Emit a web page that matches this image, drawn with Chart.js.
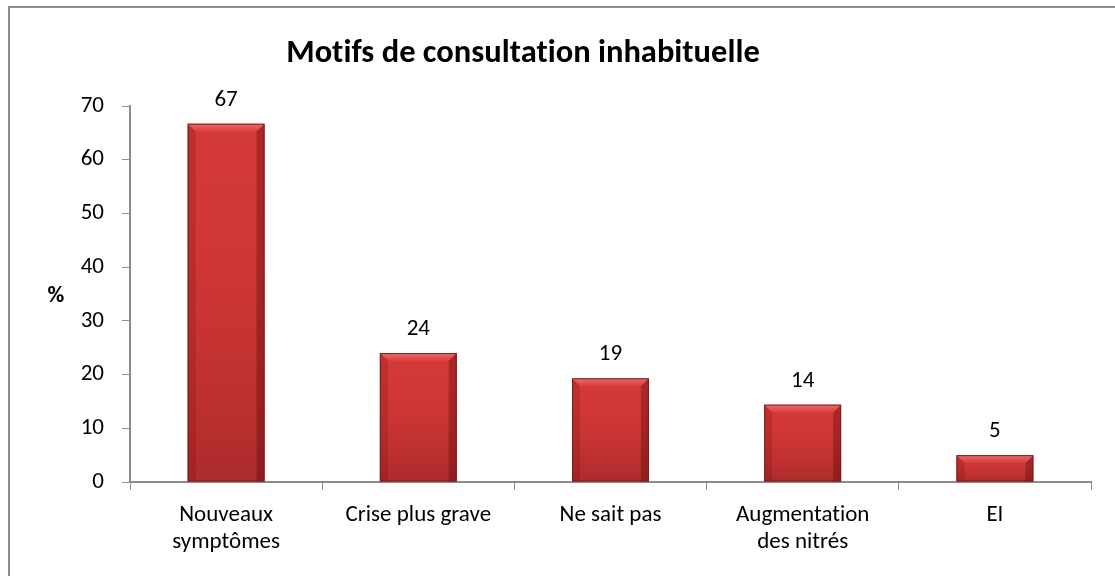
<!DOCTYPE html>
<html>
<head>
<meta charset="utf-8">
<script src="https://cdn.jsdelivr.net/npm/chart.js@4/dist/chart.umd.min.js"></script>
<style>
  html, body { margin: 0; padding: 0; background: #fff; overflow: hidden; }
  #wrap { position: relative; width: 1115px; height: 576px; }
  #frame { position: absolute; left: 8px; top: 6px; width: 2000px; height: 2000px;
           border-left: 2px solid #8c8c8c; border-top: 2px solid #8c8c8c; pointer-events: none; }
  canvas { position: absolute; left: 0; top: 0; }
</style>
</head>
<body>
<div id="wrap">
  <canvas id="c" width="1115" height="576"></canvas>
  <div id="frame"></div>
</div>
<script>
const title = "Motifs de consultation inhabituelle";
const yAxisLabel = "%";
const categories = [
  ["Nouveaux", "symptômes"],
  "Crise plus grave",
  "Ne sait pas",
  ["Augmentation", "des nitrés"],
  "EI"
];
const values = [66.7, 24.0, 19.3, 14.4, 5.0];
const yTicks = { min: 0, max: 70, step: 10 };

const FONT = "Carlito, Lato, 'Liberation Sans', sans-serif";

const noLigPlugin = {
  id: 'noLig',
  beforeDraw(chart) {
    try { chart.ctx.letterSpacing = '0.01px'; } catch (e) {}
  }
};

const bevelPlugin = {
  id: 'bevel',
  afterDatasetsDraw(chart) {
    const ctx = chart.ctx;
    const meta = chart.getDatasetMeta(0);
    meta.data.forEach(bar => {
      const w = bar.width, x0 = bar.x - w / 2, x1 = bar.x + w / 2;
      const y0 = bar.y, y1 = bar.base, h = y1 - y0;
      ctx.save();
      let g = ctx.createLinearGradient(0, y0, 0, y1);
      g.addColorStop(0, 'rgba(255,40,40,0.05)');
      g.addColorStop(1, 'rgba(60,0,0,0.25)');
      ctx.fillStyle = g;
      ctx.fillRect(x0, y0, w, h);
      const b = Math.min(8, h / 2);
      ctx.beginPath();
      ctx.moveTo(x0, y0); ctx.lineTo(x1, y0); ctx.lineTo(x1 - b, y0 + b); ctx.lineTo(x0 + b, y0 + b); ctx.closePath();
      g = ctx.createLinearGradient(0, y0, 0, y0 + b);
      g.addColorStop(0, 'rgba(255,160,160,0.55)');
      g.addColorStop(1, 'rgba(255,110,110,0.12)');
      ctx.fillStyle = g; ctx.fill();
      ctx.beginPath();
      ctx.moveTo(x0, y0); ctx.lineTo(x0 + b, y0 + b); ctx.lineTo(x0 + b, y1); ctx.lineTo(x0, y1); ctx.closePath();
      ctx.fillStyle = 'rgba(90,0,0,0.16)'; ctx.fill();
      ctx.beginPath();
      ctx.moveTo(x1, y0); ctx.lineTo(x1 - b, y0 + b); ctx.lineTo(x1 - b, y1); ctx.lineTo(x1, y1); ctx.closePath();
      ctx.fillStyle = 'rgba(70,0,0,0.30)'; ctx.fill();
      ctx.strokeStyle = '#7a1c1c'; ctx.lineWidth = 1;
      ctx.strokeRect(x0 + 0.5, y0 + 0.5, w - 1, h - 1);
      ctx.restore();
    });
  }
};

const labelsPlugin = {
  id: 'valueLabels',
  afterDatasetsDraw(chart) {
    const ctx = chart.ctx;
    const meta = chart.getDatasetMeta(0);
    ctx.save();
    ctx.font = "23px " + FONT;
    ctx.fillStyle = '#000';
    ctx.textAlign = 'center';
    ctx.textBaseline = 'alphabetic';
    meta.data.forEach((bar, i) => {
      ctx.fillText(String(Math.round(values[i])), bar.x, bar.y - 18);
    });
    ctx.restore();
  }
};

const titlePlugin = {
  id: 'customTitle',
  afterDraw(chart) {
    const ctx = chart.ctx;
    const ca = chart.chartArea;
    ctx.save();
    try { ctx.letterSpacing = '0.01px'; } catch (e) {}
    ctx.font = "bold 32.5px " + FONT;
    ctx.fillStyle = '#000';
    ctx.textAlign = 'center';
    ctx.textBaseline = 'alphabetic';
    ctx.fillText(title, 523, 62);
    ctx.font = "bold 23px " + FONT;
    ctx.fillText(yAxisLabel, 56, (ca.top + ca.bottom) / 2 + 8);
    ctx.restore();
  }
};

new Chart(document.getElementById('c'), {
  type: 'bar',
  data: {
    labels: categories,
    datasets: [{
      data: values,
      backgroundColor: '#d23a3a',
      borderWidth: 0,
      barPercentage: 0.4,
      categoryPercentage: 1.0
    }]
  },
  options: {
    responsive: false,
    animation: false,
    layout: { padding: { left: 8, right: 24, top: 106, bottom: 0 } },
    plugins: { legend: { display: false }, title: { display: false }, tooltip: { enabled: false } },
    scales: {
      x: {
        grid: { drawOnChartArea: false, drawTicks: true, tickLength: 8, color: '#8c8c8c', offset: true },
        border: { color: '#8c8c8c', width: 2 },
        ticks: { color: '#000', font: { family: FONT, size: 23 }, padding: 11, maxRotation: 0, autoSkip: false },
        afterFit(s) { s.height = 94; }
      },
      y: {
        min: yTicks.min, max: yTicks.max,
        grid: { drawOnChartArea: false, drawTicks: true, tickLength: 8, color: '#8c8c8c' },
        border: { color: '#8c8c8c', width: 2 },
        ticks: { stepSize: yTicks.step, color: '#000', font: { family: FONT, size: 23 }, padding: 18 },
        afterFit(s) { s.width = 122; }
      }
    }
  },
  plugins: [noLigPlugin, bevelPlugin, labelsPlugin, titlePlugin]
});
</script>
</body>
</html>
